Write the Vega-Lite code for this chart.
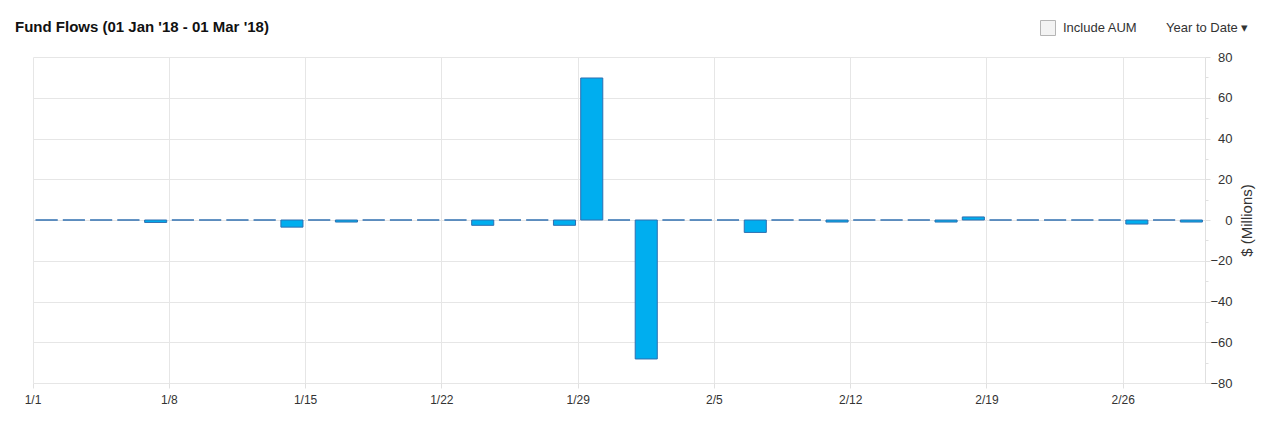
{
  "$schema": "https://vega.github.io/schema/vega-lite/v6.json",
  "autosize": "none",
  "width": 1172,
  "height": 326,
  "padding": {"left": 33, "top": 57, "right": 80, "bottom": 49},
  "background": "#ffffff",
  "title": {
    "text": "Fund Flows (01 Jan '18 - 01 Mar '18)",
    "anchor": "start",
    "frame": "group",
    "dx": -18,
    "offset": -27,
    "baseline": "alphabetic",
    "font": "Liberation Sans",
    "fontSize": 15,
    "fontWeight": "bold",
    "color": "#111111"
  },
  "config": {
    "view": {"stroke": null},
    "font": "Liberation Sans"
  },
  "layer": [
    {
      "data": {
        "values": [
          {"day": "1/1", "flow": 0}, {"day": "1/2", "flow": 0}, {"day": "1/3", "flow": 0}, {"day": "1/4", "flow": 0}, {"day": "1/5", "flow": -1.2},
          {"day": "1/8", "flow": 0}, {"day": "1/9", "flow": 0}, {"day": "1/10", "flow": 0}, {"day": "1/11", "flow": 0}, {"day": "1/12", "flow": -3.5},
          {"day": "1/15", "flow": 0}, {"day": "1/16", "flow": -1}, {"day": "1/17", "flow": 0}, {"day": "1/18", "flow": 0}, {"day": "1/19", "flow": 0},
          {"day": "1/22", "flow": 0}, {"day": "1/23", "flow": -2.6}, {"day": "1/24", "flow": 0}, {"day": "1/25", "flow": 0}, {"day": "1/26", "flow": -2.6},
          {"day": "1/29", "flow": 69.7}, {"day": "1/30", "flow": 0}, {"day": "1/31", "flow": -68.2}, {"day": "2/1", "flow": 0}, {"day": "2/2", "flow": 0},
          {"day": "2/5", "flow": 0}, {"day": "2/6", "flow": -6.1}, {"day": "2/7", "flow": 0}, {"day": "2/8", "flow": 0}, {"day": "2/9", "flow": -1},
          {"day": "2/12", "flow": 0}, {"day": "2/13", "flow": 0}, {"day": "2/14", "flow": 0}, {"day": "2/15", "flow": -1}, {"day": "2/16", "flow": 1.5},
          {"day": "2/19", "flow": 0}, {"day": "2/20", "flow": 0}, {"day": "2/21", "flow": 0}, {"day": "2/22", "flow": 0}, {"day": "2/23", "flow": 0},
          {"day": "2/26", "flow": -2}, {"day": "2/27", "flow": 0}, {"day": "2/28", "flow": -1}
        ]
      },
      "mark": {"type": "bar", "width": {"band": 0.81}, "fill": "#00aeef", "stroke": "#2f6fb0", "strokeWidth": 1},
      "encoding": {
        "x": {
          "field": "day",
          "type": "ordinal",
          "sort": null,
          "scale": {"type": "band", "paddingInner": 0, "paddingOuter": 0},
          "axis": {
            "title": null,
            "values": ["1/1", "1/8", "1/15", "1/22", "1/29", "2/5", "2/12", "2/19", "2/26"],
            "bandPosition": 0,
            "labelOffset": -13.6,
            "labelAngle": 0,
            "labelFontSize": 12,
            "labelColor": "#333333",
            "labelPadding": 6,
            "tickSize": 5,
            "tickColor": "#e0e0e0",
            "domain": false,
            "grid": true,
            "gridColor": "#e6e6e6",
            "gridWidth": 1
          }
        },
        "y": {
          "field": "flow",
          "type": "quantitative",
          "scale": {"domain": [-80, 80], "nice": false, "zero": false},
          "axis": {
            "orient": "right",
            "title": "$ (Millions)",
            "titleAngle": -90,
            "titleFontSize": 15,
            "titleFontWeight": "normal",
            "titleColor": "#333333",
            "titlePadding": 22,
            "values": [-80, -70, -60, -50, -40, -30, -20, -10, 0, 10, 20, 30, 40, 50, 60, 70, 80],
            "labelExpr": "datum.value % 20 === 0 ? datum.label : ''",
            "labelFontSize": 13,
            "labelColor": "#333333",
            "labelAlign": "right",
            "labelPadding": 22,
            "tickSize": {"condition": {"test": "datum.value % 20 !== 0", "value": 3}, "value": 5},
            "tickColor": "#e0e0e0",
            "domainColor": "#e0e0e0",
            "grid": true,
            "gridColor": "#e6e6e6",
            "gridOpacity": {"condition": {"test": "datum.value % 20 !== 0", "value": 0}, "value": 1}
          }
        }
      }
    },
    {
      "data": {"values": []},
      "mark": {"type": "square", "stroke": "#b5b5b5", "strokeWidth": 1},
      "encoding": {
        "color": {
          "datum": "Include AUM",
          "type": "nominal",
          "scale": {"domain": ["Include AUM"], "range": ["#f3f3f3"]},
          "legend": {
            "title": null,
            "orient": "none",
            "legendX": 1007,
            "legendY": -37,
            "padding": 0,
            "symbolType": "square",
            "symbolSize": 225,
            "symbolOpacity": 1,
            "symbolStrokeWidth": 1,
            "labelOffset": 7,
            "labelFontSize": 13,
            "labelColor": "#333333",
            "labelFont": "Liberation Sans"
          }
        }
      }
    },
    {
      "data": {"values": []},
      "mark": {"type": "point"},
      "encoding": {
        "shape": {
          "datum": "Year to Date  ▾",
          "type": "nominal",
          "scale": {"domain": ["Year to Date  ▾"], "range": ["square"]},
          "legend": {
            "title": null,
            "orient": "none",
            "legendX": 1120,
            "legendY": -36,
            "padding": 0,
            "symbolSize": 1,
            "symbolOpacity": 0,
            "labelOffset": 0,
            "labelFontSize": 13,
            "labelColor": "#333333",
            "labelFont": "Liberation Sans"
          }
        }
      }
    }
  ]
}
